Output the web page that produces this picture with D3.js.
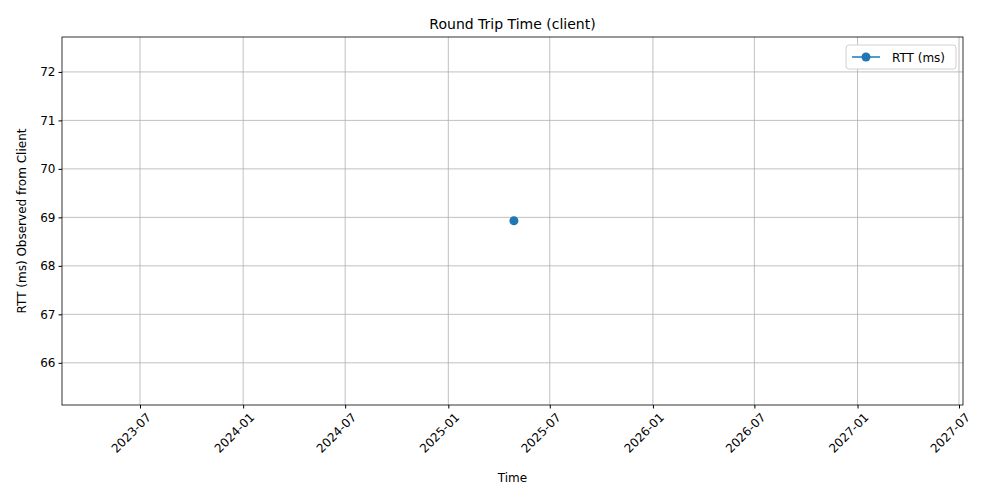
<!DOCTYPE html>
<meta charset="utf-8">
<style>
body { margin: 0; background: #fff; }
text { font-family: "DejaVu Sans", sans-serif; fill: #000; }
.grid line { stroke: #b0b0b0; stroke-width: 0.8; }
</style>
<svg width="1000" height="500"></svg>
<script src="https://cdn.jsdelivr.net/npm/d3@7"></script>
<script>

var times = ["2025-04-28"],
    rtt = [68.93],
    xTicks = ["2023-07", "2024-01", "2024-07", "2025-01", "2025-07", "2026-01", "2026-07", "2027-01", "2027-07"],
    yTicks = [66, 67, 68, 69, 70, 71, 72];

var svg = d3.select("svg"),
    mLeft = 62, mRight = 963, mTop = 37, mBottom = 405;

var parseM = d3.timeParse("%Y-%m"),
    parseD = d3.timeParse("%Y-%m-%d");

// ticks 2023-07 at 140px, 2027-07 at 959px
var x = d3.scaleTime()
    .domain([parseM("2023-07"), parseM("2027-07")])
    .range([140, 959]);
var y = d3.scaleLinear().domain([65.13, 72.72]).range([mBottom, mTop]);

var grid = svg.append("g").attr("class", "grid");
grid.selectAll(".gx").data(xTicks).enter().append("line")
    .attr("x1", function(d) { return x(parseM(d)); })
    .attr("x2", function(d) { return x(parseM(d)); })
    .attr("y1", mTop).attr("y2", mBottom);
grid.selectAll(".gy").data(yTicks).enter().append("line")
    .attr("x1", mLeft).attr("x2", mRight)
    .attr("y1", function(d) { return y(d); })
    .attr("y2", function(d) { return y(d); });

svg.append("g")
    .attr("transform", "translate(0," + mBottom + ")")
    .call(d3.axisBottom(x).tickValues(xTicks.map(parseM)).tickFormat(d3.timeFormat("%Y-%m")).tickSize(3.5).tickSizeOuter(0))
    .call(function(g) {
      g.select(".domain").remove();
      g.selectAll("text")
        .style("font-size", "12px")
        .attr("text-anchor", "end")
        .attr("dx", "-0.1em").attr("dy", "0.9em")
        .attr("transform", "rotate(-45)");
    });

svg.append("g")
    .attr("transform", "translate(" + mLeft + ",0)")
    .call(d3.axisLeft(y).tickValues(yTicks).tickSize(3.5).tickSizeOuter(0))
    .call(function(g) {
      g.select(".domain").remove();
      g.selectAll("text").style("font-size", "12px");
    });

svg.append("rect")
    .attr("x", mLeft).attr("y", mTop)
    .attr("width", mRight - mLeft).attr("height", mBottom - mTop)
    .attr("fill", "none").attr("stroke", "#000").attr("stroke-width", 0.8);

var pts = times.map(function(t, i) { return { t: parseD(t), v: rtt[i] }; });
svg.append("path").datum(pts)
    .attr("fill", "none").attr("stroke", "#1f77b4").attr("stroke-width", 1.5)
    .attr("d", d3.line().x(function(d) { return x(d.t); }).y(function(d) { return y(d.v); }));
svg.selectAll(".pt").data(pts).enter().append("circle")
    .attr("cx", function(d) { return x(d.t); })
    .attr("cy", function(d) { return y(d.v); })
    .attr("r", 4.5).attr("fill", "#1f77b4");

// legend
var lg = svg.append("g").attr("transform", "translate(846,45)");
lg.append("rect").attr("width", 110).attr("height", 24).attr("rx", 3)
    .attr("fill", "#fff").attr("stroke", "#d0d0d0");
lg.append("line").attr("x1", 6).attr("x2", 34).attr("y1", 12).attr("y2", 12)
    .attr("stroke", "#1f77b4").attr("stroke-width", 1.5);
lg.append("circle").attr("cx", 20).attr("cy", 12).attr("r", 4.5).attr("fill", "#1f77b4");
lg.append("text").attr("x", 46).attr("y", 16.5).style("font-size", "12px").text("RTT (ms)");

svg.append("text").attr("x", (mLeft + mRight) / 2).attr("y", 29)
    .attr("text-anchor", "middle").style("font-size", "14px").text("Round Trip Time (client)");
svg.append("text").attr("x", (mLeft + mRight) / 2).attr("y", 482)
    .attr("text-anchor", "middle").style("font-size", "12px").text("Time");
svg.append("text").attr("transform", "translate(26," + (mTop + mBottom) / 2 + ") rotate(-90)")
    .attr("text-anchor", "middle").style("font-size", "12px").text("RTT (ms) Observed from Client");

</script>
